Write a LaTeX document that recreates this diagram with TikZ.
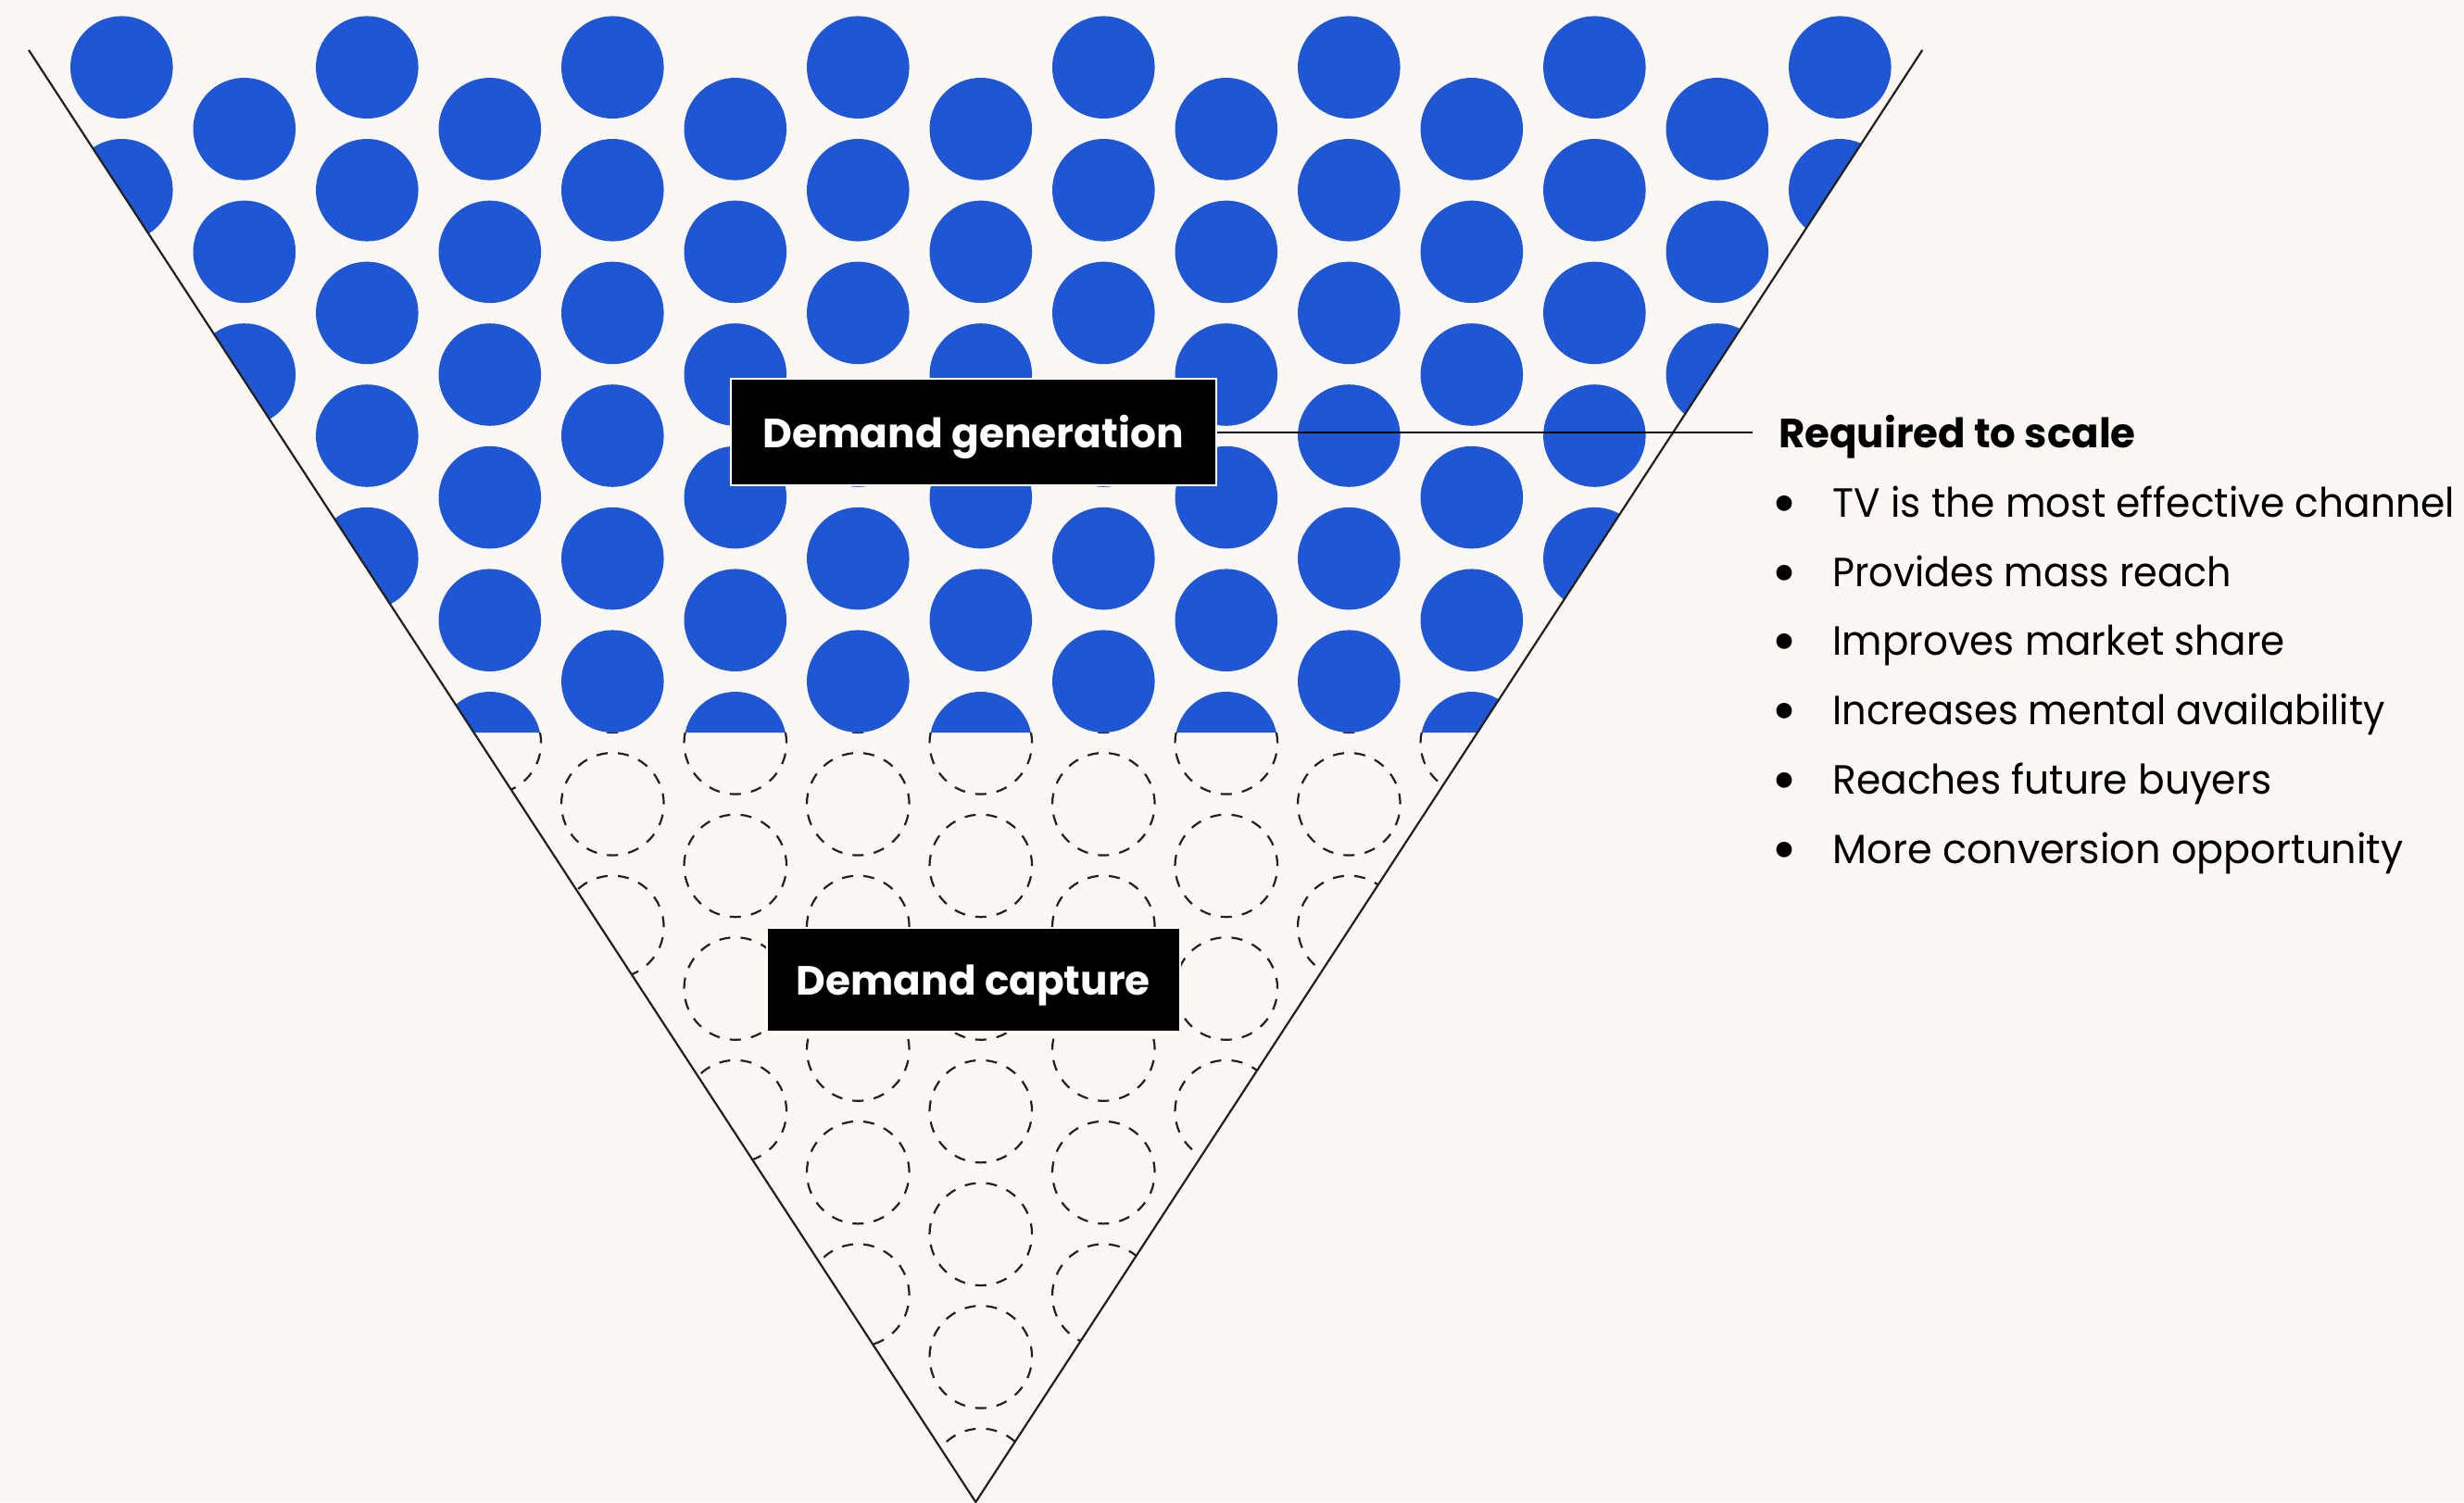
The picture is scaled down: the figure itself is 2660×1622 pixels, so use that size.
\documentclass[tikz,border=0pt]{standalone}
\usepackage{fontspec}
\setmainfont{Poppins}
\usepackage{graphicx}
\definecolor{bg}{RGB}{251,248,243}
\definecolor{dotblue}{RGB}{30,86,212}
\definecolor{ink}{RGB}{34,31,31}
\begin{document}
\begin{tikzpicture}[x=1pt,y=-1pt,
  funnel/.style={draw=ink,line width=2.2pt},
  bluedot/.style={fill=dotblue},
  ghostdot/.style={draw=ink,line width=2.2pt,dash pattern=on 12pt off 11.17pt,dash phase=11.8pt},
  labelbox/.style={fill=black,draw=white,line width=2pt,text=white,font=\bfseries\fontsize{44}{50}\selectfont,inner sep=0pt,text height=40pt,text depth=6pt,align=center},
  listhead/.style={font=\bfseries\fontsize{44}{50}\selectfont,inner sep=0pt,anchor=base west},
  listtext/.style={font=\fontsize{44}{50}\selectfont,inner sep=0pt,anchor=base west},
  listdot/.style={font=\fontsize{68}{70}\selectfont,inner sep=0pt,anchor=center}
]
\fill[bg] (0,0) rectangle (2660,1622);
\useasboundingbox (0,0) rectangle (2660,1622);

% filled circles (upper part of funnel)
\begin{scope}
  \clip (-69.4,-100) -- (2175.7,-100) -- (1594.8,791) -- (511.5,791) -- cycle;
  \foreach \k in {0,...,14}{
    \pgfmathsetmacro\cx{131.3+132.5*\k}
    \pgfmathsetmacro\cy{72.7+66.6*mod(\k,2)}
    \foreach \j in {0,...,6}{
      \fill[bluedot] ({\cx},{\cy+132.6*\j}) circle[radius=55.3];
    }
  }
\end{scope}

% dashed circles (lower part of funnel)
\begin{scope}
  \clip (511.5,791) -- (1594.8,791) -- (1053.3,1622) -- cycle;
  \foreach \k in {3,...,11}{
    \pgfmathsetmacro\cx{131.3+132.5*\k}
    \pgfmathsetmacro\cy{72.7+66.6*mod(\k,2)}
    \foreach \j in {4,...,12}{
      \draw[ghostdot] ({\cx},{\cy+132.6*\j}) circle[radius=55.3];
    }
  }
\end{scope}

% funnel outline
\draw[funnel] (31,54) -- (1053.3,1622) -- (2075.3,54);

% labels
\node[labelbox,minimum width=523.9pt,minimum height=115.3pt] (gen) at (1050.65,466.7)
  {\resizebox{454.5pt}{\height}{Demand generation}};
\node[labelbox,minimum width=446.3pt,minimum height=112.3pt] (cap) at (1050.8,1057.8)
  {\resizebox{381.7pt}{\height}{Demand capture}};

% side text
\node[listhead] (req) at (1920,483.3) {\resizebox{385.5pt}{\height}{Required to scale}};
\coordinate (lineend) at (1892.4,466.7);
\draw[black,line width=2pt] (gen.east) -- (lineend);

\foreach \t/\w [count=\n from 0] in {
  TV is the most effective channel/671.6,
  Provides mass reach/430.3,
  Improves market share/488.5,
  Increases mental availability/596,
  Reaches future buyers/473.6,
  More conversion opportunity/615.9}{
  \node[listdot] (b\n) at (1926,{558.3+74.8*\n-7.5}) {•};
  \node[listtext] (t\n) at (1978.3,{558.3+74.8*\n}) {\resizebox{\w pt}{\height}{\t}};
}
\end{tikzpicture}
\end{document}
